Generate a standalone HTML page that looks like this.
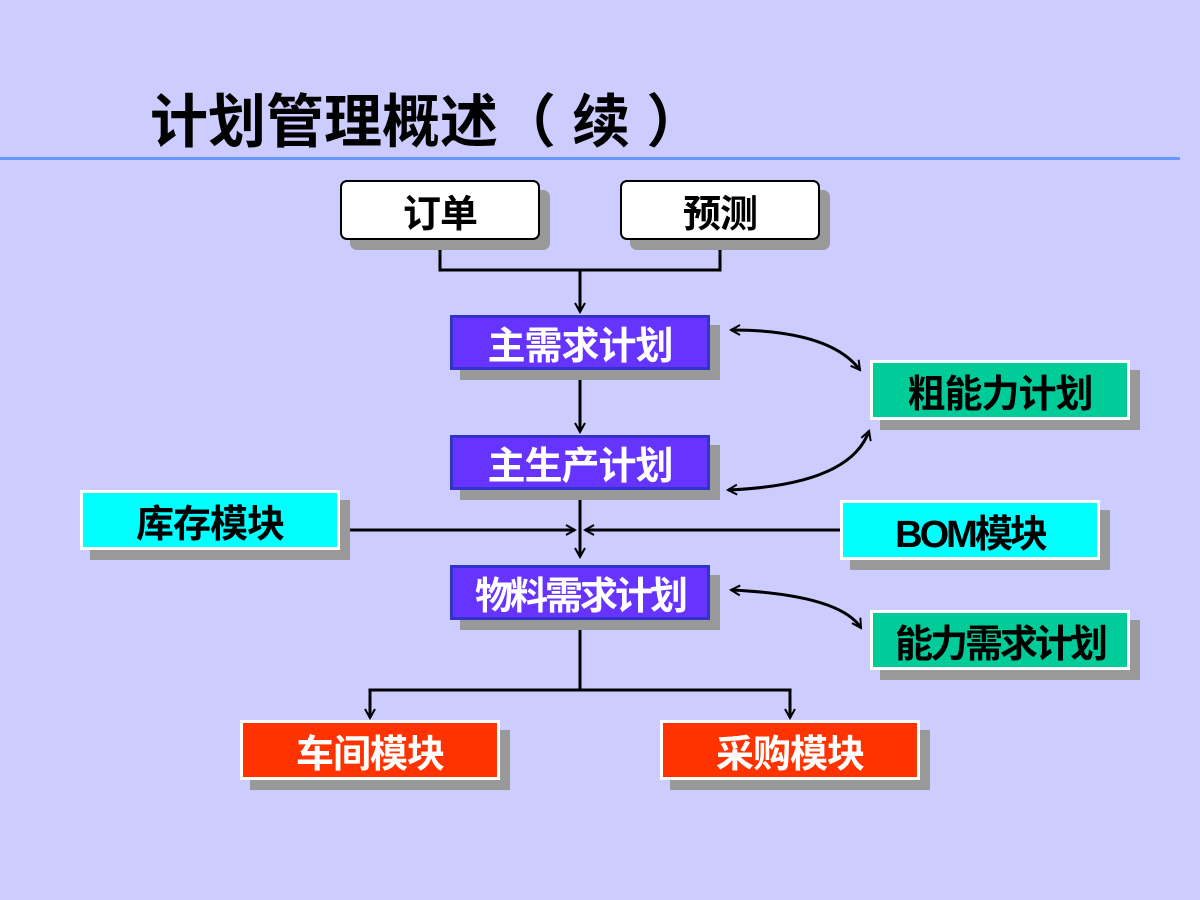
<!DOCTYPE html>
<html><head><meta charset="utf-8"><style>
body{margin:0;width:1200px;height:900px;background:#ccccff;position:relative;overflow:hidden;font-family:"Liberation Sans","Noto Sans CJK SC",sans-serif;}
.t{position:absolute;left:150px;top:88px;font-size:58px;font-weight:bold;color:#000;line-height:70px;white-space:nowrap;letter-spacing:0px}
.hl{position:absolute;left:0;top:157px;width:1180px;height:3px;background:#6699ff}
.b{position:absolute;box-sizing:border-box;display:flex;align-items:center;justify-content:center;font-weight:bold;font-size:38px;white-space:nowrap;box-shadow:10px 10px 0 #999999;letter-spacing:-1px}
.w{background:#fff;border:2px solid #000;border-radius:7px;color:#000;box-shadow:10px 10px 0 #999}
.p{background:#6633ff;border:3px solid #3333cc;color:#fff}
.g{background:#00cc99;border:3px solid #fff;color:#000}
.c{background:#00ffff;border:3px solid #fff;color:#000}
.r{background:#ff3300;border:3px solid #fff;color:#fff}
svg{position:absolute;left:0;top:0}
</style></head><body>
<div class="t">计划管理概述（ 续 ）</div>
<div class="hl"></div>
<svg width="1200" height="900">
<defs><marker id="a" markerWidth="12" markerHeight="12" refX="10" refY="6" orient="auto-start-reverse" markerUnits="userSpaceOnUse"><path d="M1,1 L10,6 L1,11" fill="none" stroke="#000" stroke-width="2"/></marker></defs>
<g stroke="#000" stroke-width="3" fill="none">
<path d="M440,240 V270 H720 V240"/>
<path d="M580,270 V312" marker-end="url(#a)"/>
<path d="M580,370 V432" marker-end="url(#a)"/>
<path d="M580,490 V557" marker-end="url(#a)"/>
<path d="M340,530 H575" marker-end="url(#a)"/>
<path d="M840,530 H585" marker-end="url(#a)"/>
<path d="M580,620 V690 H370 V718" marker-end="url(#a)"/>
<path d="M580,690 H790 V718" marker-end="url(#a)"/>
<path d="M860,370 Q830,330 731,330" marker-end="url(#a)" marker-start="url(#a)"/>
<path d="M728,490 Q850,485 869,431" marker-end="url(#a)" marker-start="url(#a)"/>
<path d="M731,590 Q840,595 861,628" marker-end="url(#a)" marker-start="url(#a)"/>
</g>
</svg>
<div class="b w" style="left:340px;top:180px;width:200px;height:60px">订单</div>
<div class="b w" style="left:620px;top:180px;width:200px;height:60px">预测</div>
<div class="b p" style="left:450px;top:315px;width:260px;height:55px">主需求计划</div>
<div class="b p" style="left:450px;top:435px;width:260px;height:55px">主生产计划</div>
<div class="b p" style="left:450px;top:565px;width:260px;height:55px;letter-spacing:-3px">物料需求计划</div>
<div class="b g" style="left:870px;top:360px;width:260px;height:60px">粗能力计划</div>
<div class="b g" style="left:870px;top:610px;width:260px;height:60px;letter-spacing:-3px">能力需求计划</div>
<div class="b c" style="left:80px;top:490px;width:260px;height:60px">库存模块</div>
<div class="b c" style="left:840px;top:500px;width:260px;height:60px;letter-spacing:-3px">BOM模块</div>
<div class="b r" style="left:240px;top:720px;width:260px;height:60px">车间模块</div>
<div class="b r" style="left:660px;top:720px;width:260px;height:60px">采购模块</div>
</body></html>
